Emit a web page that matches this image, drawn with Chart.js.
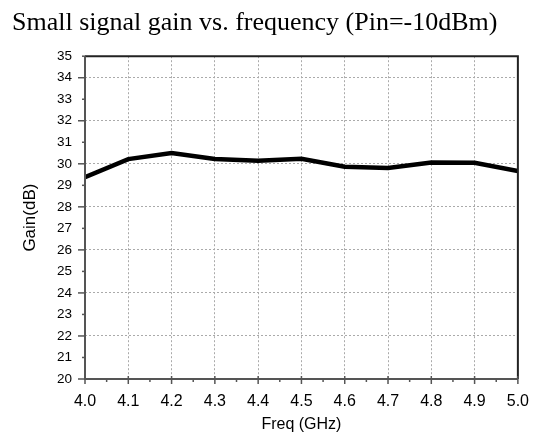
<!DOCTYPE html>
<html>
<head>
<meta charset="utf-8">
<script src="https://cdn.jsdelivr.net/npm/chart.js@4/dist/chart.umd.min.js"></script>
<style>
  html, body { margin: 0; padding: 0; background: #fff; }
  #wrap { width: 542px; height: 439px; }
</style>
</head>
<body>
<div id="wrap"><canvas id="gainChart"></canvas></div>
<script>
// frequency points (GHz) and small signal gain (dB)
const freqs = [4.0, 4.1, 4.2, 4.3, 4.4, 4.5, 4.6, 4.7, 4.8, 4.9, 5.0];
const gain = [29.38, 30.22, 30.50, 30.22, 30.14, 30.23, 29.86, 29.81, 30.06, 30.05, 29.66];

const yMin = 20, yMax = 35;
const xMin = 4.0, xMax = 5.0;

// frame + major/minor ticks, placed with the scales
const frameTicks = {
  id: 'frameTicks',
  afterDraw(chart) {
    const { ctx, chartArea: a, scales } = chart;
    const x = scales.x, y = scales.y;
    ctx.save();
    // top and right border
    ctx.strokeStyle = '#222';
    ctx.lineWidth = 2;
    ctx.beginPath();
    ctx.moveTo(a.left, a.top); ctx.lineTo(a.right, a.top); ctx.lineTo(a.right, a.bottom);
    ctx.stroke();
    // left and bottom axes
    ctx.strokeStyle = '#555';
    ctx.lineWidth = 2;
    ctx.beginPath();
    ctx.moveTo(a.left, a.top); ctx.lineTo(a.left, a.bottom); ctx.lineTo(a.right, a.bottom);
    ctx.stroke();
    // y ticks
    ctx.lineWidth = 1.5;
    y.ticks.forEach(t => {
      const py = y.getPixelForValue(t.value);
      const len = (Math.round(t.value) % 2 === 0) ? 7 : 3;
      ctx.beginPath();
      ctx.moveTo(a.left - len, py); ctx.lineTo(a.left, py);
      ctx.stroke();
    });
    // x ticks with minor ones in between
    x.ticks.forEach((t, i) => {
      const px = x.getPixelForValue(t.value);
      ctx.beginPath();
      ctx.moveTo(px, a.bottom - 3); ctx.lineTo(px, a.bottom + 5);
      ctx.stroke();
      if (i < x.ticks.length - 1) {
        const mx = x.getPixelForValue((t.value + x.ticks[i + 1].value) / 2);
        ctx.beginPath();
        ctx.moveTo(mx, a.bottom); ctx.lineTo(mx, a.bottom + 3);
        ctx.stroke();
      }
    });
    ctx.restore();
  }
};

new Chart(document.getElementById('gainChart'), {
  type: 'line',
  data: {
    datasets: [{
      data: freqs.map((f, i) => ({ x: f, y: gain[i] })),
      borderColor: '#000',
      borderWidth: 4.5,
      pointRadius: 0,
      tension: 0,
      fill: false
    }]
  },
  options: {
    responsive: true,
    maintainAspectRatio: false,
    animation: false,
    layout: { padding: { left: 12, right: 22, top: 0, bottom: 0 } },
    plugins: {
      legend: { display: false },
      tooltip: { enabled: false },
      title: {
        display: true,
        text: 'Small signal gain vs. frequency (Pin=-10dBm)',
        align: 'start',
        color: '#000',
        font: { family: 'Liberation Serif', size: 26, weight: 'normal' },
        padding: { top: 8, bottom: 17 }
      }
    },
    scales: {
      x: {
        type: 'linear',
        min: xMin,
        max: xMax,
        afterFit(s) { s.height = 60; },
        ticks: {
          stepSize: 0.1,
          autoSkip: false,
          maxRotation: 0,
          padding: 13,
          color: '#000',
          font: { family: 'Liberation Sans', size: 16 },
          callback: v => v.toFixed(1)
        },
        grid: {
          drawTicks: false,
          lineWidth: 1,
          color: c => (c.tick && c.tick.value > xMin + 0.01 && c.tick.value < xMax - 0.01) ? '#aaa' : 'rgba(0,0,0,0)'
        },
        border: { display: false, dash: [2, 2] },
        title: {
          display: true,
          text: 'Freq (GHz)',
          color: '#000',
          font: { family: 'Liberation Sans', size: 16 },
          padding: { top: 2, bottom: 5 }
        }
      },
      y: {
        min: yMin,
        max: yMax,
        afterFit(s) { s.width = 73; },
        ticks: {
          stepSize: 1,
          autoSkip: false,
          padding: 13,
          color: '#000',
          font: { family: 'Liberation Sans', size: 13.5 }
        },
        grid: {
          drawTicks: false,
          lineWidth: 1,
          color: c => {
            const v = c.tick ? Math.round(c.tick.value) : 0;
            return (v % 2 === 0 && v > yMin && v < yMax) ? '#aaa' : 'rgba(0,0,0,0)';
          }
        },
        border: { display: false, dash: [2, 2] },
        title: {
          display: true,
          text: 'Gain(dB)',
          color: '#000',
          font: { family: 'Liberation Sans', size: 17 },
          padding: { top: 8, bottom: 0 }
        }
      }
    }
  },
  plugins: [frameTicks]
});
</script>
</body>
</html>
